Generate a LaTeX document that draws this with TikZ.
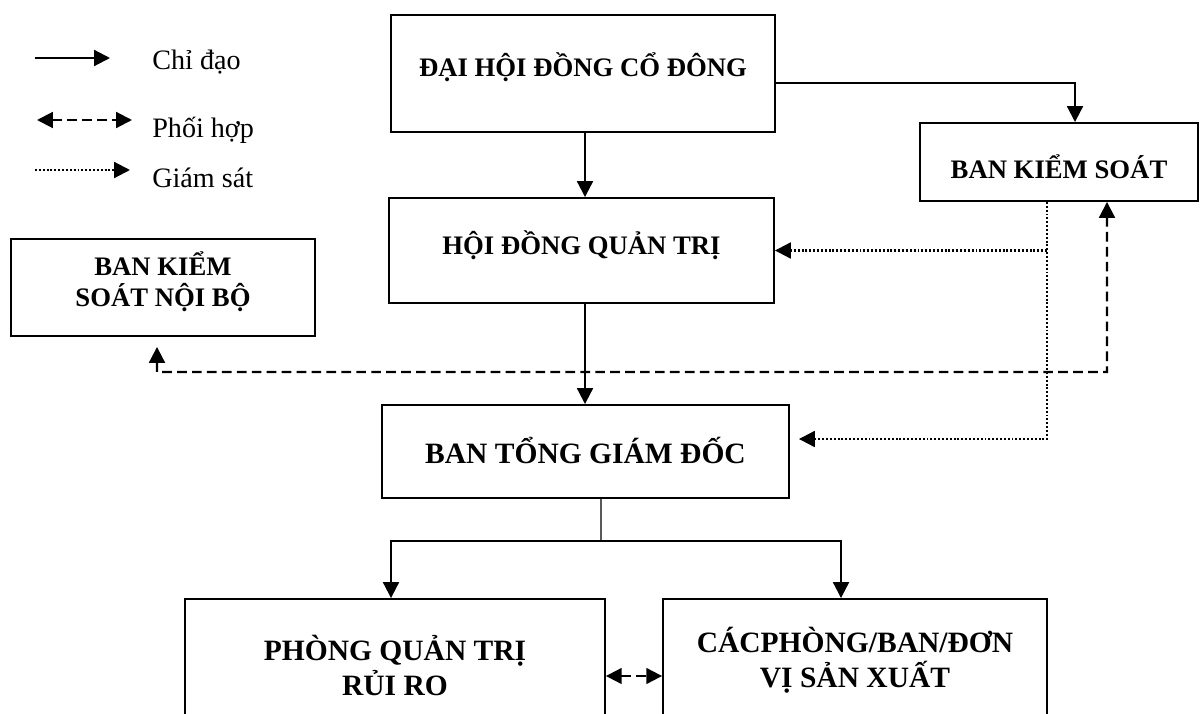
\documentclass[tikz,border=0pt]{standalone}
\usepackage{fontspec}
\setmainfont{Liberation Serif}
\usetikzlibrary{arrows.meta}
\usetikzlibrary{positioning}
\tikzset{box/.style = {draw, line width=1.1pt, inner sep=0}}
\tikzset{boxtext/.style = {inner sep=0, align=center, font=\bfseries\fontsize{15.2}{17.6}\selectfont}}
\tikzset{bigtext/.style = {boxtext, font=\bfseries\fontsize{16.8}{20}\selectfont}}
\tikzset{chidao/.style = {line width=1.2pt, -{Triangle[length=9pt, width=9pt]}}}
\tikzset{phoihop/.style = {line width=1.2pt, dash pattern=on 5.5pt off 3pt,
                           {Triangle[length=9pt, width=9pt]}-{Triangle[length=9pt, width=9pt]}}}
\tikzset{giamsat/.style = {line width=1.2pt, dash pattern=on 1.1pt off 1.1pt,
                           -{Triangle[length=9pt, width=9pt]}}}
\tikzset{legendtext/.style = {anchor=west, inner sep=0, font=\fontsize{16}{18}\selectfont}}

\begin{document}
\begin{tikzpicture}[x=0.02cm, y=-0.02cm]
    \useasboundingbox (0, 0) rectangle (1202, 713);
    \clip (0, 0) rectangle (1202, 713);

    % legend
    \coordinate (l1a) at (35, 58);   \coordinate (l1b) at (110, 58);
    \coordinate (l2a) at (37, 120);  \coordinate (l2b) at (132, 120);
    \coordinate (l3a) at (35, 170);  \coordinate (l3b) at (130, 170);
    \draw [chidao] (l1a) -- (l1b);
    \draw [phoihop] (l2a) -- (l2b);
    \draw [giamsat] (l3a) -- (l3b);
    \node [legendtext] (lgchidao) at (152, 62) {Chỉ đạo};
    \node [legendtext] (lgphoihop) at (152, 130) {Phối hợp};
    \node [legendtext] (lggiamsat) at (152, 178) {Giám sát};

    % boxes
    \node [box, minimum width=7.68cm, minimum height=2.34cm] (dhdcd) at (583, 73.5) {};
    \node [box, minimum width=7.7cm, minimum height=2.1cm] (hdqt) at (581.5, 250.5) {};
    \node [box, minimum width=5.56cm, minimum height=1.56cm] (bks) at (1059, 162) {};
    \node [box, minimum width=6.08cm, minimum height=1.94cm] (bksnb) at (163, 287.5) {};
    \node [box, minimum width=8.14cm, minimum height=1.86cm] (btgd) at (585.5, 451.5) {};
    \node [box, minimum width=8.4cm, minimum height=2.52cm] (pqtrr) at (395, 662) {};
    \node [box, minimum width=7.68cm, minimum height=2.52cm] (cacphong) at (855, 662) {};

    \node [boxtext, yshift=0.12cm] (dhdcd-t) at (dhdcd) {ĐẠI HỘI ĐỒNG CỔ ĐÔNG};
    \node [boxtext, yshift=0.11cm] (hdqt-t) at (hdqt) {HỘI ĐỒNG QUẢN TRỊ};
    \node [boxtext, yshift=-0.09cm] (bks-t) at (bks) {BAN KIỂM SOÁT};
    \node [boxtext, yshift=0.12cm] (bksnb-t) at (bksnb) {BAN KIỂM\\SOÁT NỘI BỘ};
    \node [bigtext, yshift=0.03cm] (btgd-t) at (btgd) {BAN TỔNG GIÁM ĐỐC};
    \node [bigtext, yshift=-0.07cm] (pqtrr-t) at (pqtrr) {PHÒNG QUẢN TRỊ\\RỦI RO};
    \node [bigtext, yshift=0.03cm] (cacphong-t) at (cacphong) {CÁCPHÒNG/BAN/ĐƠN\\VỊ SẢN XUẤT};

    % chi dao
    \draw [chidao] ([xshift=0.04cm]dhdcd.south) -- ([xshift=0.04cm]dhdcd.south |- hdqt.north);
    \draw [chidao] ([yshift=-0.19cm]dhdcd.east) -| ([xshift=0.32cm]bks.north);
    \draw [chidao] ([xshift=0.07cm]hdqt.south) -- ([xshift=0.07cm]hdqt.south |- btgd.north);
    \coordinate (re) at (601, 541);
    \draw [line width=0.7pt] ([xshift=0.31cm]btgd.south) -- (re);
    \draw [chidao] (re) -| ([xshift=-0.08cm]pqtrr.north);
    \draw [chidao] (re) -| ([xshift=-0.28cm]cacphong.north);

    % giam sat
    \draw [giamsat] ([xshift=-0.24cm]bks.south) |- ([xshift=0.18cm, yshift=0.25cm]btgd.east);
    \draw [giamsat] ([xshift=-0.24cm]bks.south |- hdqt.east) -- (hdqt.east);

    % phoi hop
    \coordinate (ph) at (1107, 372);
    \draw [phoihop] ([xshift=-0.12cm, yshift=-0.2cm]bksnb.south) |- (ph) -- ([xshift=0.96cm]bks.south);
    \draw [phoihop] ([yshift=-0.28cm]pqtrr.east) -- ([yshift=-0.28cm]cacphong.west);
  \end{tikzpicture}
\end{document}
